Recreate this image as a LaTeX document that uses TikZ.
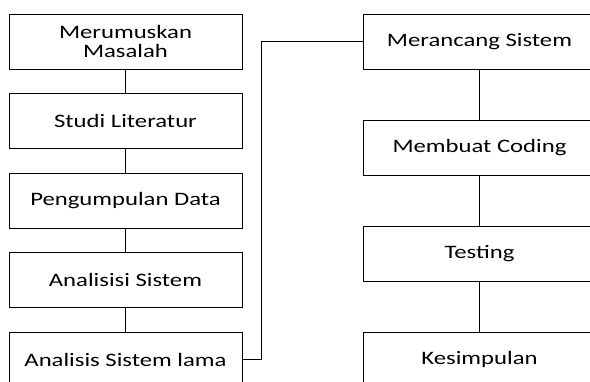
\documentclass[tikz,border=0pt]{standalone}
\usepackage{fontspec}
\setmainfont[FakeStretch=1.3]{Carlito}
\usepackage{tikz}
\usetikzlibrary{arrows.meta,positioning}

\begin{document}
\begin{tikzpicture}[x=1pt, y=1pt,
    tahap/.style={draw, line width=0.8pt, minimum width=233pt, minimum height=55pt,
        inner sep=0pt, align=center, font=\fontsize{19}{19.5}\selectfont},
    garis/.style={line width=0.8pt}]
    \useasboundingbox (0,0) rectangle (590,381);
    \clip (0,0) rectangle (590,381);

    % Kolom kiri
    \node[tahap] (rumus) at (125.5,339.5) {Merumuskan\\Masalah};
    \node[tahap] (studi) at (125.5,260.5) {Studi Literatur};
    \node[tahap] (kumpul) at (125.5,180.5) {Pengumpulan Data};
    \node[tahap] (analisis) at (125.5,101.5) {Analisisi Sistem};
    \node[tahap] (lama) at (125.5,21.5) {Analisis Sistem lama};

    % Kolom kanan
    \node[tahap] (rancang) at (479.5,339.5) {Merancang Sistem};
    \node[tahap] (coding) at (479.5,233.5) {Membuat Coding};
    \node[tahap] (testing) at (479.5,127.5) {Testing};
    \node[tahap] (simpul) at (479.5,21.5) {Kesimpulan};

    % Garis penghubung
    \draw[garis] (rumus) -- (studi);
    \draw[garis] (studi) -- (kumpul);
    \draw[garis] (kumpul) -- (analisis);
    \draw[garis] (analisis) -- (lama);
    \draw[garis] (lama.east) -- ++(19,0) |- (rancang.west);
    \draw[garis] (rancang) -- (coding);
    \draw[garis] (coding) -- (testing);
    \draw[garis] (testing) -- (simpul);
\end{tikzpicture}
\end{document}
